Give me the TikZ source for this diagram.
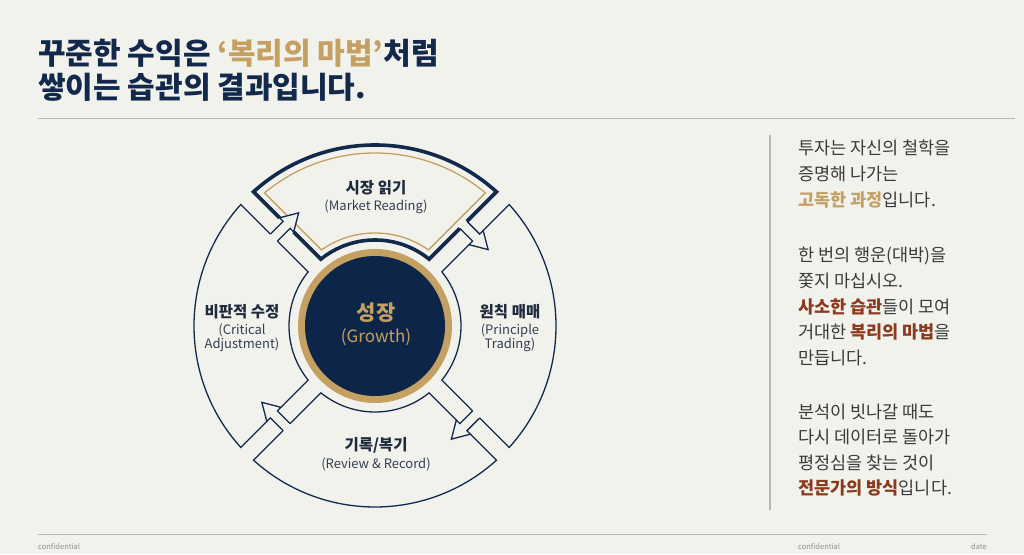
\documentclass[tikz,border=0pt]{standalone}
\usepackage{fontspec}
\setmainfont{Noto Sans CJK KR}
\definecolor{bg}{HTML}{F2F2ED}
\definecolor{navy}{HTML}{13294B}
\definecolor{navyc}{HTML}{0C2548}
\definecolor{gold}{HTML}{C5A063}
\definecolor{ink}{HTML}{3A3A3A}
\definecolor{lab}{HTML}{1F2B3D}
\definecolor{sub}{HTML}{34404F}
\definecolor{rust}{HTML}{8B3A1E}
\definecolor{rulec}{HTML}{B8B8B2}
\definecolor{foot}{HTML}{8E8E8E}
\newcommand\fs[1]{\fontsize{#1}{#1}\selectfont}
\newcommand\segpath[5]{%
  \draw[#5] (#1-bh) -- (#1-om) arc[start angle={#3-asin(\g/\R)}, end angle={#4+asin(\g/\R)}, radius=\R pt] -- (#2-ahp);
  \draw[#5] (#2-alp) -- (#2-ip) arc[start angle={#4+asin(\g/\ri)}, end angle={#3-asin(\g/\ri)}, radius=\ri pt] -- (#1-bl);
}
\newcommand\arrowpart[1]{%
  \fill[bg] (#1-bh) -- (#1-tip) -- (#1-bl) -- cycle;
  \draw[thinline] (#1-ahp) -- (#1-ahm) -- (#1-bh) -- (#1-tip) -- (#1-bl) -- (#1-alm) -- (#1-alp);
}
\begin{document}
\begin{tikzpicture}[x=1pt,y=1pt,line join=miter,
  thinline/.style={navy,line width=1.3pt},
  thickline/.style={navy,line width=3.6pt},
  lbl/.style={inner sep=0pt,font=\fs{15.5}\bfseries,text=lab},
  sublbl/.style={inner sep=0pt,font=\fs{13},text=sub,align=center},
  para/.style={inner sep=0pt,anchor=base west,font=\fs{17.5},text=ink},
  footer/.style={inner sep=0pt,font=\fs{7.5},text=foot}]
\fill[bg] (0,0) rectangle (1024,554);
\useasboundingbox (0,0) rectangle (1024,554);
\def\cx{375}\def\cy{228}
\def\g{9}\def\R{181}\def\ri{86}\def\rc{134}
\foreach \p/\n in {135/a,45/b,-45/c,-135/d}{
  \begin{scope}[shift={(\cx,\cy)},rotate=\p]
    \coordinate (\n-ahp) at ({\rc+5},\g);
    \coordinate (\n-alp) at ({\rc-5},\g);
    \coordinate (\n-ahm) at ({\rc+5},-\g);
    \coordinate (\n-alm) at ({\rc-5},-\g);
    \coordinate (\n-bh) at ({\rc+10},-\g);
    \coordinate (\n-bl) at ({\rc-10},-\g);
    \coordinate (\n-tip) at (\rc,{-\g-17});
    \coordinate (\n-ip) at ({sqrt(\ri-\g)*sqrt(\ri+\g)},\g);
    \coordinate (\n-om) at ({sqrt(\R-\g)*sqrt(\R+\g)},-\g);
    \coordinate (\n-gm) at ({sqrt(173-16)*sqrt(173+16)},-16);
    \coordinate (\n-gip) at ({sqrt(93-16)*sqrt(93+16)},16);
  \end{scope}
}
% segments
\segpath{d}{a}{225}{135}{thinline}
\segpath{b}{c}{45}{-45}{thinline}
\segpath{c}{d}{-45}{-135}{thinline}
\segpath{a}{b}{135}{45}{thickline}
% gold inner line of the top segment
\draw[gold,line width=1.3pt] (a-gm) arc[start angle={135-asin(16/173)}, end angle={45+asin(16/173)}, radius=173pt]
  -- (b-gip) arc[start angle={45+asin(16/93)}, end angle={135-asin(16/93)}, radius=93pt] -- cycle;
% arrows
\arrowpart{a}
\arrowpart{b}
\arrowpart{c}
\arrowpart{d}
% centre
\fill[gold] (\cx,\cy) circle[radius=77pt];
\fill[navyc] (\cx,\cy) circle[radius=70pt];
\node[inner sep=0pt,font=\fs{21}\bfseries,text=gold] (cg1) at (376,241) {성장};
\node[inner sep=0pt,font=\fs{17},text=gold] (cg2) at (376,217) {(Growth)};
% labels
\node[lbl] (t1) at (376,366) {시장 읽기};
\node[sublbl] (t2) at (376,347) {(Market Reading)};
\node[lbl] (l1) at (242,242) {비판적 수정};
\node[sublbl] (l2) at (242,216) {(Critical\\Adjustment)};
\node[lbl] (r1) at (510,242) {원칙 매매};
\node[sublbl] (r2) at (510,216) {(Principle\\Trading)};
\node[lbl] (b1) at (376,109) {기록/복기};
\node[sublbl] (b2) at (376,90) {(Review \& Record)};
% title
\node[inner sep=0pt,anchor=base west,font=\fs{30}\bfseries,text=navy] (ti1) at (38,489.6) {꾸준한 수익은 \textcolor{gold}{‘복리의 마법’}처럼};
\node[inner sep=0pt,anchor=base west,font=\fs{30}\bfseries,text=navy] (ti2) at (38,455.6) {쌓이는 습관의 결과입니다.};
\draw[rulec,line width=1pt] (38,435) coordinate (tr1) -- (1015,435) coordinate (tr2);
% right panel
\draw[rulec,line width=1.5pt] (770,419) coordinate (vr1) -- (770,44) coordinate (vr2);
\node[para] (p1) at (798,399.4) {투자는 자신의 철학을};
\node[para] (p2) at (798,373.4) {증명해 나가는};
\node[para] (p3) at (798,347.4) {\textcolor{gold}{\bfseries 고독한 과정}입니다.};
\node[para] (p4) at (798,292.4) {한 번의 행운(대박)을};
\node[para] (p5) at (798,266.4) {쫓지 마십시오.};
\node[para] (p6) at (798,240.9) {\textcolor{rust}{\bfseries 사소한 습관}들이 모여};
\node[para] (p7) at (798,215.4) {거대한 \textcolor{rust}{\bfseries 복리의 마법}을};
\node[para] (p8) at (798,189.9) {만듭니다.};
\node[para] (p9) at (798,135.9) {분석이 빗나갈 때도};
\node[para] (p10) at (798,110.4) {다시 데이터로 돌아가};
\node[para] (p11) at (798,84.9) {평정심을 찾는 것이};
\node[para] (p12) at (798,59.4) {\textcolor{rust}{\bfseries 전문가의 방식}입니다.};
% footer
\draw[rulec,line width=1pt] (38,20) coordinate (fr1) -- (987,20) coordinate (fr2);
\node[footer,anchor=west] (f1) at (38,7) {confidential};
\node[footer,anchor=west] (f2) at (798,7) {confidential};
\node[footer,anchor=east] (f3) at (987,7) {date};
\end{tikzpicture}
\end{document}
